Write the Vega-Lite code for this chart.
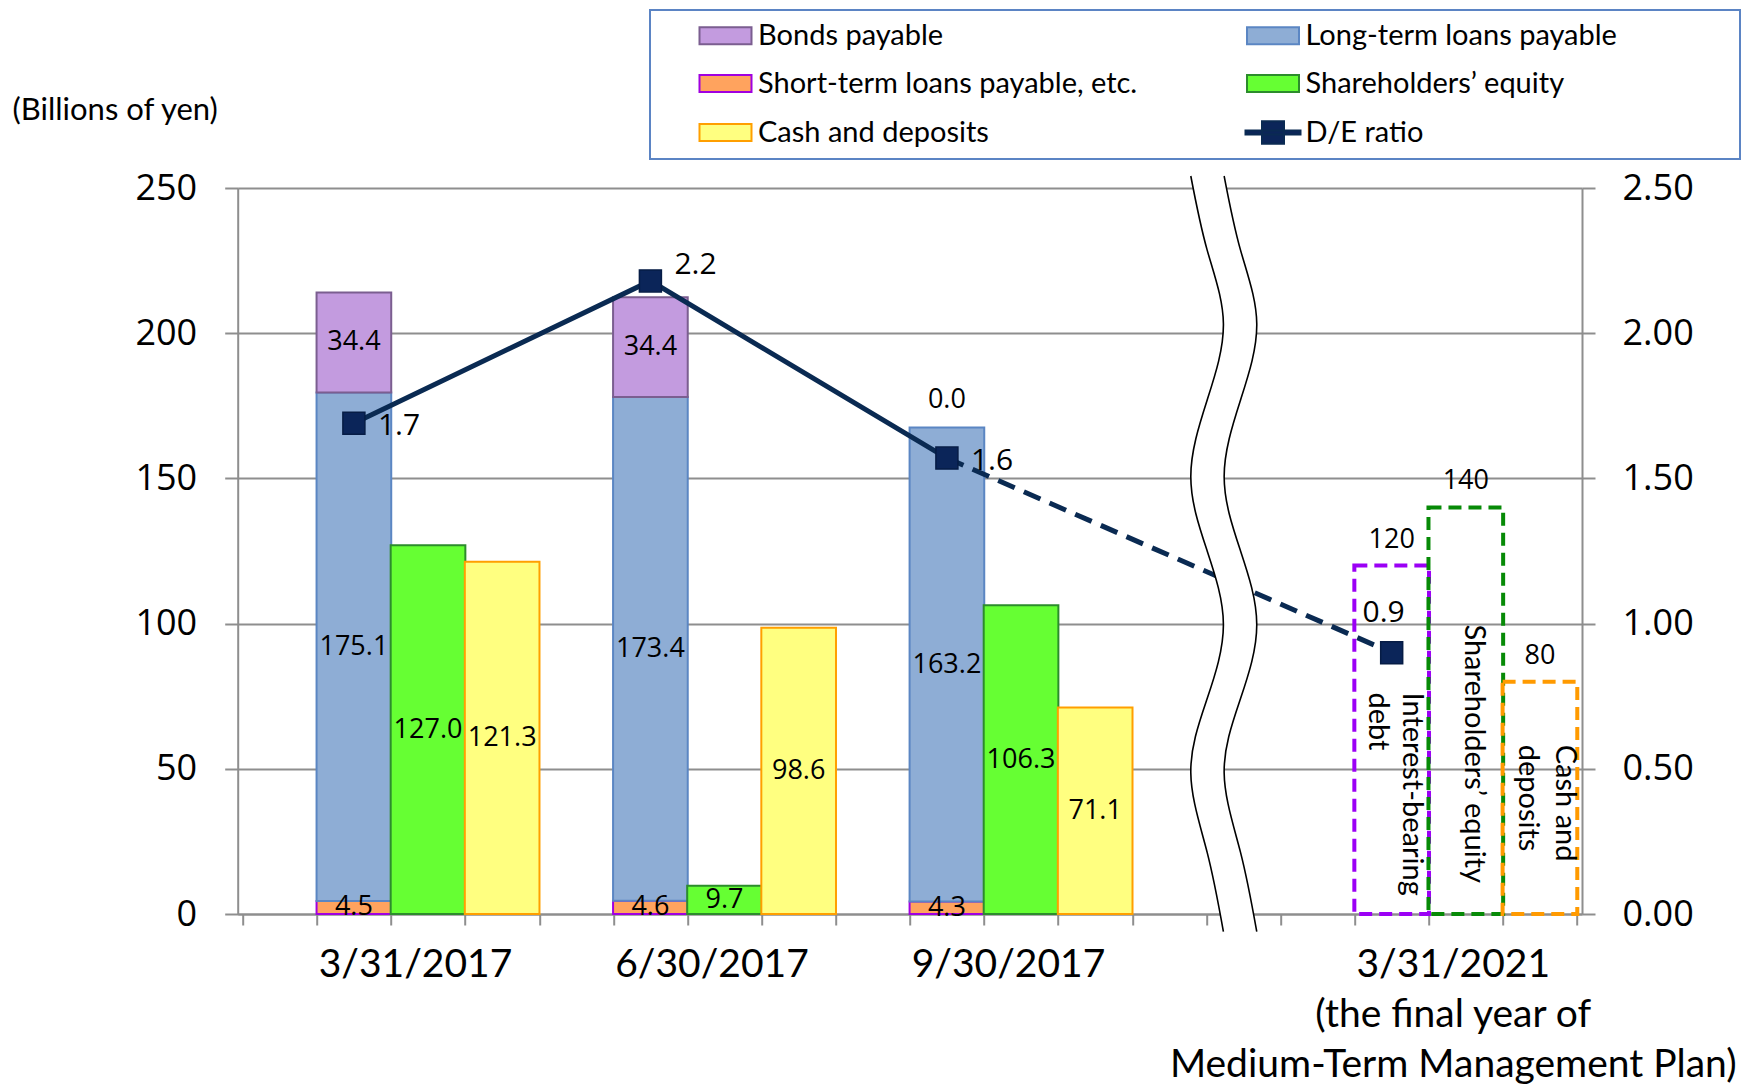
{
  "$schema": "https://vega.github.io/schema/vega-lite/v6.json",
  "width": 1344.3,
  "height": 726,
  "autosize": {"type": "none"},
  "padding": {"left": 237.7, "top": 188, "right": 161, "bottom": 172},
  "background": "white",
  "config": {"view": {"stroke": null}},
  "datasets": {
    "bars": [
      {"date": "3/31/2017", "series": "Short-term loans payable, etc.", "x": 1.5, "value": 4.5},
      {"date": "3/31/2017", "series": "Long-term loans payable", "x": 1.5, "value": 175.1},
      {"date": "3/31/2017", "series": "Bonds payable", "x": 1.5, "value": 34.4},
      {"date": "3/31/2017", "series": "Shareholders’ equity", "x": 2.5, "value": 127.0},
      {"date": "3/31/2017", "series": "Cash and deposits", "x": 3.5, "value": 121.3},
      {"date": "6/30/2017", "series": "Short-term loans payable, etc.", "x": 5.5, "value": 4.6},
      {"date": "6/30/2017", "series": "Long-term loans payable", "x": 5.5, "value": 173.4},
      {"date": "6/30/2017", "series": "Bonds payable", "x": 5.5, "value": 34.4},
      {"date": "6/30/2017", "series": "Shareholders’ equity", "x": 6.5, "value": 9.7},
      {"date": "6/30/2017", "series": "Cash and deposits", "x": 7.5, "value": 98.6},
      {"date": "9/30/2017", "series": "Short-term loans payable, etc.", "x": 9.5, "value": 4.3},
      {"date": "9/30/2017", "series": "Long-term loans payable", "x": 9.5, "value": 163.2},
      {"date": "9/30/2017", "series": "Bonds payable", "x": 9.5, "value": 0.0},
      {"date": "9/30/2017", "series": "Shareholders’ equity", "x": 10.5, "value": 106.3},
      {"date": "9/30/2017", "series": "Cash and deposits", "x": 11.5, "value": 71.1}
    ],
    "plan": [
      {"date": "3/31/2021", "item": "Interest-bearing debt", "text": "Interest-bearing\ndebt", "x": 15.5, "value": 120},
      {"date": "3/31/2021", "item": "Shareholders’ equity", "text": "Shareholders’ equity", "x": 16.5, "value": 140},
      {"date": "3/31/2021", "item": "Cash and deposits", "text": "Cash and\ndeposits", "x": 17.5, "value": 80}
    ],
    "de": [
      {"date": "3/31/2017", "x": 1.5, "de": 1.69},
      {"date": "6/30/2017", "x": 5.5, "de": 2.18},
      {"date": "9/30/2017", "x": 9.5, "de": 1.57},
      {"date": "3/31/2021", "x": 15.5, "de": 0.90}
    ],
    "wave": [
      {"y": 254.13, "left": 12.79, "right": 13.24},
      {"y": 228.7, "left": 13.01, "right": 13.46},
      {"y": 203.27, "left": 13.23, "right": 13.68},
      {"y": 176.9, "left": 13.01, "right": 13.46},
      {"y": 150.58, "left": 12.79, "right": 13.24},
      {"y": 125.1, "left": 13.01, "right": 13.46},
      {"y": 99.62, "left": 13.23, "right": 13.68},
      {"y": 74.1, "left": 13.01, "right": 13.46},
      {"y": 48.66, "left": 12.79, "right": 13.24},
      {"y": 21.3, "left": 13.01, "right": 13.46},
      {"y": -6.1, "left": 13.23, "right": 13.68}
    ]
  },
  "layer": [
    {
      "data": {"name": "bars"},
      "transform": [
        {"stack": "value", "groupby": ["x"], "sort": [{"field": "series", "order": "descending"}], "as": ["y0", "y1"]},
        {"filter": "datum.value > 0"}
      ],
      "mark": {"type": "bar", "width": 74.67, "strokeWidth": 2},
      "encoding": {
        "x": {
          "field": "x", "type": "quantitative", "title": null,
          "scale": {"domain": [0, 18], "nice": false, "zero": false},
          "axis": {
            "orient": "bottom",
            "values": [0, 1, 2, 3, 4, 5, 6, 7, 8, 9, 10, 11, 12, 13, 14, 15, 16, 17, 18],
            "grid": false,
            "domainColor": "#8E8E8E", "domainWidth": 2,
            "ticks": true, "tickColor": "#8E8E8E", "tickWidth": 2, "tickSize": 11,
            "labels": true,
            "labelExpr": "datum.value == 2 ? '3/31/2017' : datum.value == 6 ? '6/30/2017' : datum.value == 10 ? '9/30/2017' : datum.value == 16 ? ['3/31/2021', '(the final year of', 'Medium-Term Management Plan)'] : ''",
            "labelFont": "Lato", "labelFontSize": 39, "labelColor": "black",
            "labelBaseline": "alphabetic", "labelPadding": 51, "labelLineHeight": 50,
            "labelLimit": 2000, "labelOffset": 24,
            "labelOverlap": false, "labelFlush": false
          }
        },
        "y": {
          "field": "y1", "type": "quantitative",
          "scale": {"domain": [0, 250], "nice": false},
          "axis": {
            "orient": "left",
            "values": [0, 50, 100, 150, 200, 250],
            "grid": true, "gridColor": "#8E8E8E", "gridWidth": 2,
            "domainColor": "#8E8E8E", "domainWidth": 2,
            "tickColor": "#8E8E8E", "tickWidth": 2, "tickSize": 13,
            "labelFont": "Open Sans", "labelFontSize": 36, "labelColor": "black", "labelPadding": 28,
            "labelOverlap": false, "labelFlush": false,
            "title": "(Billions of yen)",
            "titleFont": "Lato", "titleFontSize": 31, "titleFontWeight": "normal", "titleColor": "black",
            "titleAngle": 0, "titleX": -123, "titleY": -78, "titleAlign": "center", "titleBaseline": "middle"
          }
        },
        "y2": {"field": "y0"},
        "color": {
          "field": "series", "type": "nominal",
          "scale": {
            "domain": ["Bonds payable", "Short-term loans payable, etc.", "Cash and deposits", "Long-term loans payable", "Shareholders’ equity", "D/E ratio"],
            "range": ["#C39BDF", "#FFA35E", "#FFFF80", "#8EADD5", "#66FF33", "#0B2559"]
          },
          "legend": {
            "orient": "none", "legendX": 412.3, "legendY": -178,
            "title": " ", "titleOrient": "left", "titleFontSize": 1, "titlePadding": 50,
            "columns": 2, "gridAlign": "each", "columnPadding": 103.5, "rowPadding": 18,
            "padding": 11, "strokeColor": "#5B84C4",
            "symbolType": "M-2.6,-0.85H2.6V0.85H-2.6Z", "symbolSize": 400, "symbolStrokeWidth": 2, "symbolOpacity": 1,
            "labelFont": "Lato", "labelFontSize": 29, "labelColor": "black", "labelOffset": 18, "labelLimit": 0,
            "labelExpr": "datum.label == 'Long-term loans payable' ? datum.label + '               \u200b' : datum.label",
            "encode": {
              "legend": {"update": {"strokeWidth": {"value": 2}}},
              "symbols": {"update": {
                "stroke": {"signal": "datum.value === 'Bonds payable' ? '#7B5E90' : datum.value === 'Long-term loans payable' ? '#5B86C3' : datum.value === 'Short-term loans payable, etc.' ? '#A000E0' : datum.value === 'Shareholders’ equity' ? '#2C8C2C' : datum.value === 'Cash and deposits' ? '#FF9F00' : '#0A2A52'"},
                "shape": {"signal": "datum.value === 'D/E ratio' ? 'M-2.75,-0.2H2.75V0.2H-2.75Z M-1.1,-1.12H1.1V1.12H-1.1Z' : 'M-2.6,-0.85H2.6V0.85H-2.6Z'"},
                "strokeWidth": {"value": 2}
              }}
            }
          }
        },
        "stroke": {
          "field": "series", "type": "nominal",
          "scale": {
            "domain": ["Bonds payable", "Long-term loans payable", "Short-term loans payable, etc.", "Shareholders’ equity", "Cash and deposits"],
            "range": ["#7B5E90", "#5B86C3", "#A000E0", "#2C8C2C", "#FF9F00"]
          },
          "legend": null
        }
      }
    },
    {
      "data": {"name": "plan"},
      "mark": {"type": "bar", "width": 74.67, "filled": false, "strokeWidth": 4, "strokeDash": [13, 7]},
      "encoding": {
        "x": {"field": "x", "type": "quantitative", "title": null, "scale": {"domain": [0, 18], "nice": false, "zero": false}},
        "y": {"field": "value", "type": "quantitative", "stack": null, "scale": {"domain": [0, 250], "nice": false}, "axis": null},
        "stroke": {
          "field": "item", "type": "nominal",
          "scale": {"domain": ["Interest-bearing debt", "Shareholders’ equity", "Cash and deposits"], "range": ["#9B00F5", "#078A07", "#FF9A00"]},
          "legend": null
        }
      }
    },
    {
      "data": {"name": "bars"},
      "transform": [
        {"stack": "value", "groupby": ["x"], "sort": [{"field": "series", "order": "descending"}], "as": ["y0", "y1"]},
        {"filter": "datum.value > 0"},
        {"calculate": "(datum.y0 + datum.y1) / 2", "as": "mid"}
      ],
      "mark": {"type": "text", "font": "Open Sans", "fontSize": 27, "color": "black", "align": "center", "baseline": "middle"},
      "encoding": {
        "x": {"field": "x", "type": "quantitative", "title": null, "scale": {"domain": [0, 18], "nice": false, "zero": false}},
        "y": {"field": "mid", "type": "quantitative", "scale": {"domain": [0, 250], "nice": false}, "axis": null},
        "text": {"field": "value", "type": "quantitative", "format": ".1f"}
      }
    },
    {
      "data": {"name": "bars"},
      "transform": [
        {"stack": "value", "groupby": ["x"], "sort": [{"field": "series", "order": "descending"}], "as": ["y0", "y1"]},
        {"filter": "datum.value == 0"}
      ],
      "mark": {"type": "text", "font": "Open Sans", "fontSize": 27, "color": "black", "align": "center", "baseline": "middle", "dy": -28},
      "encoding": {
        "x": {"field": "x", "type": "quantitative", "title": null, "scale": {"domain": [0, 18], "nice": false, "zero": false}},
        "y": {"field": "y1", "type": "quantitative", "scale": {"domain": [0, 250], "nice": false}, "axis": null},
        "text": {"field": "value", "type": "quantitative", "format": ".1f"}
      }
    },
    {
      "data": {"name": "plan"},
      "mark": {"type": "text", "font": "Open Sans", "fontSize": 27, "color": "black", "align": "center", "baseline": "bottom", "dy": -12},
      "encoding": {
        "x": {"field": "x", "type": "quantitative", "title": null, "scale": {"domain": [0, 18], "nice": false, "zero": false}},
        "y": {"field": "value", "type": "quantitative", "scale": {"domain": [0, 250], "nice": false}, "axis": null},
        "text": {"field": "value", "type": "quantitative"}
      }
    },
    {
      "data": {"name": "plan"},
      "transform": [{"filter": "datum.item == 'Interest-bearing debt'"}],
      "mark": {"type": "text", "font": "Lato", "fontSize": 29, "color": "black", "angle": 90, "align": "left", "baseline": "middle", "lineBreak": "\n", "lineHeight": 34, "dx": 127, "dy": -20},
      "encoding": {
        "x": {"field": "x", "type": "quantitative", "title": null, "scale": {"domain": [0, 18], "nice": false, "zero": false}},
        "y": {"field": "value", "type": "quantitative", "scale": {"domain": [0, 250], "nice": false}, "axis": null},
        "text": {"field": "text", "type": "nominal"}
      }
    },
    {
      "data": {"name": "plan"},
      "transform": [{"filter": "datum.item == 'Shareholders’ equity'"}],
      "mark": {"type": "text", "font": "Lato", "fontSize": 29, "color": "black", "angle": 90, "align": "left", "baseline": "middle", "lineBreak": "\n", "lineHeight": 34, "dx": 117, "dy": -8},
      "encoding": {
        "x": {"field": "x", "type": "quantitative", "title": null, "scale": {"domain": [0, 18], "nice": false, "zero": false}},
        "y": {"field": "value", "type": "quantitative", "scale": {"domain": [0, 250], "nice": false}, "axis": null},
        "text": {"field": "text", "type": "nominal"}
      }
    },
    {
      "data": {"name": "plan"},
      "transform": [{"filter": "datum.item == 'Cash and deposits'"}],
      "mark": {"type": "text", "font": "Lato", "fontSize": 29, "color": "black", "angle": 90, "align": "left", "baseline": "middle", "lineBreak": "\n", "lineHeight": 37, "dx": 63, "dy": -25},
      "encoding": {
        "x": {"field": "x", "type": "quantitative", "title": null, "scale": {"domain": [0, 18], "nice": false, "zero": false}},
        "y": {"field": "value", "type": "quantitative", "scale": {"domain": [0, 250], "nice": false}, "axis": null},
        "text": {"field": "text", "type": "nominal"}
      }
    },
    {
      "data": {"name": "de"},
      "transform": [{"filter": "datum.date != '3/31/2021'"}],
      "mark": {"type": "line", "color": "#0A2A52", "strokeWidth": 5},
      "encoding": {
        "x": {"field": "x", "type": "quantitative", "title": null, "scale": {"domain": [0, 18], "nice": false, "zero": false}},
        "y": {
          "field": "de", "type": "quantitative",
          "scale": {"domain": [0, 2.5], "nice": false},
          "axis": {
            "orient": "right",
            "values": [0, 0.5, 1, 1.5, 2, 2.5], "format": ".2f",
            "grid": false,
            "domainColor": "#8E8E8E", "domainWidth": 2,
            "tickColor": "#8E8E8E", "tickWidth": 2, "tickSize": 13,
            "labelFont": "Open Sans", "labelFontSize": 36, "labelColor": "black", "labelPadding": 27,
            "labelOverlap": false, "labelFlush": false,
            "title": null
          }
        }
      }
    },
    {
      "data": {"name": "de"},
      "transform": [{"filter": "datum.date == '9/30/2017' || datum.date == '3/31/2021'"}],
      "mark": {"type": "line", "color": "#0A2A52", "strokeWidth": 5, "strokeDash": [18, 10]},
      "encoding": {
        "x": {"field": "x", "type": "quantitative", "title": null, "scale": {"domain": [0, 18], "nice": false, "zero": false}},
        "y": {"field": "de", "type": "quantitative", "scale": {"domain": [0, 2.5], "nice": false}, "axis": null}
      }
    },
    {
      "data": {"name": "wave"},
      "mark": {"type": "area", "orient": "horizontal", "interpolate": "natural", "fill": "white", "fillOpacity": 1},
      "encoding": {
        "x": {"field": "left", "type": "quantitative", "title": null, "scale": {"domain": [0, 18], "nice": false, "zero": false}, "stack": null},
        "x2": {"field": "right"},
        "y": {"field": "y", "type": "quantitative", "scale": {"domain": [0, 250], "nice": false}, "axis": null}
      }
    },
    {
      "data": {"name": "wave"},
      "mark": {"type": "line", "interpolate": "natural", "color": "black", "strokeWidth": 1.6},
      "encoding": {
        "x": {"field": "left", "type": "quantitative", "title": null, "scale": {"domain": [0, 18], "nice": false, "zero": false}},
        "y": {"field": "y", "type": "quantitative", "scale": {"domain": [0, 250], "nice": false}, "axis": null},
        "order": {"field": "y", "type": "quantitative"}
      }
    },
    {
      "data": {"name": "wave"},
      "mark": {"type": "line", "interpolate": "natural", "color": "black", "strokeWidth": 1.6},
      "encoding": {
        "x": {"field": "right", "type": "quantitative", "title": null, "scale": {"domain": [0, 18], "nice": false, "zero": false}},
        "y": {"field": "y", "type": "quantitative", "scale": {"domain": [0, 250], "nice": false}, "axis": null},
        "order": {"field": "y", "type": "quantitative"}
      }
    },
    {
      "data": {"name": "de"},
      "mark": {"type": "point", "shape": "square", "size": 484, "filled": true, "fill": "#0B2559", "stroke": "#061C45", "strokeWidth": 1.5, "opacity": 1},
      "encoding": {
        "x": {"field": "x", "type": "quantitative", "title": null, "scale": {"domain": [0, 18], "nice": false, "zero": false}},
        "y": {"field": "de", "type": "quantitative", "scale": {"domain": [0, 2.5], "nice": false}, "axis": null}
      }
    },
    {
      "data": {"name": "de"},
      "transform": [{"filter": "datum.date == '3/31/2017' || datum.date == '9/30/2017'"}],
      "mark": {"type": "text", "font": "Open Sans", "fontSize": 30, "color": "black", "align": "left", "baseline": "middle", "dx": 24, "dy": 3},
      "encoding": {
        "x": {"field": "x", "type": "quantitative", "title": null, "scale": {"domain": [0, 18], "nice": false, "zero": false}},
        "y": {"field": "de", "type": "quantitative", "scale": {"domain": [0, 2.5], "nice": false}, "axis": null},
        "text": {"field": "de", "type": "quantitative", "format": ".1f"}
      }
    },
    {
      "data": {"name": "de"},
      "transform": [{"filter": "datum.date == '6/30/2017'"}],
      "mark": {"type": "text", "font": "Open Sans", "fontSize": 30, "color": "black", "align": "left", "baseline": "middle", "dx": 24, "dy": -16},
      "encoding": {
        "x": {"field": "x", "type": "quantitative", "title": null, "scale": {"domain": [0, 18], "nice": false, "zero": false}},
        "y": {"field": "de", "type": "quantitative", "scale": {"domain": [0, 2.5], "nice": false}, "axis": null},
        "text": {"field": "de", "type": "quantitative", "format": ".1f"}
      }
    },
    {
      "data": {"name": "de"},
      "transform": [{"filter": "datum.date == '3/31/2021'"}],
      "mark": {"type": "text", "font": "Open Sans", "fontSize": 30, "color": "black", "align": "center", "baseline": "middle", "dx": -8, "dy": -40},
      "encoding": {
        "x": {"field": "x", "type": "quantitative", "title": null, "scale": {"domain": [0, 18], "nice": false, "zero": false}},
        "y": {"field": "de", "type": "quantitative", "scale": {"domain": [0, 2.5], "nice": false}, "axis": null},
        "text": {"field": "de", "type": "quantitative", "format": ".1f"}
      }
    }
  ],
  "resolve": {"scale": {"y": "independent", "stroke": "independent"}}
}
